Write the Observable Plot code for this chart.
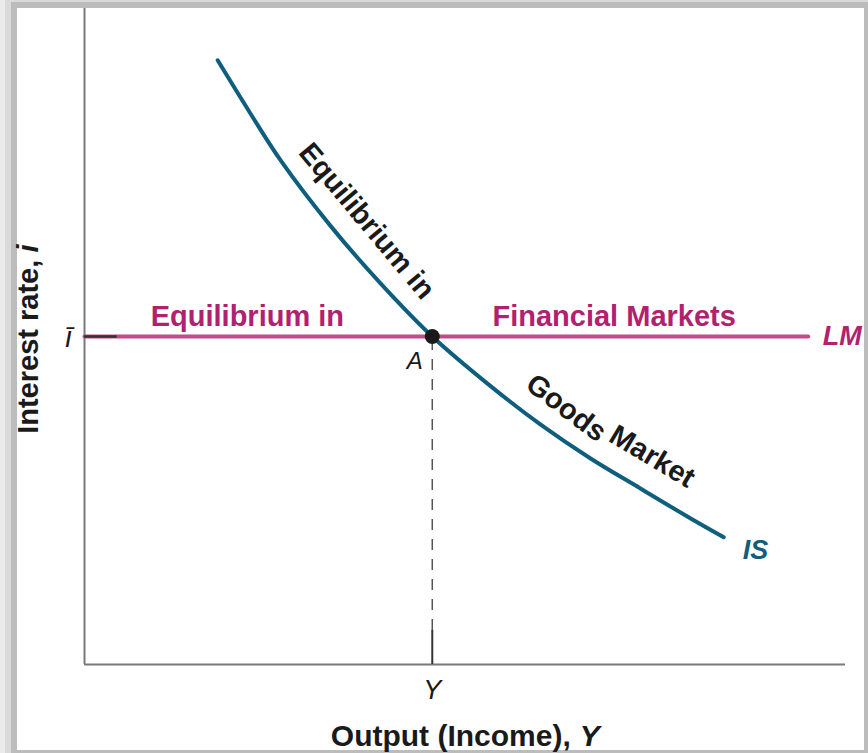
<!DOCTYPE html>
<html>
<head>
<meta charset="utf-8">
<script src="https://cdn.jsdelivr.net/npm/d3@7"></script>
<script src="https://cdn.jsdelivr.net/npm/@observablehq/plot@0.6"></script>
<style>
  html, body { margin: 0; padding: 0; }
  body { width: 868px; height: 753px; overflow: hidden; background: #ebebeb; position: relative; }
  .band1 { position: absolute; left: 5px; top: 0; right: 0; bottom: 0; background: #dadada; }
  .band2 { position: absolute; left: 11px; top: 2px; right: 0; bottom: 0; background: #bcbcbc; }
  .paper { position: absolute; left: 17px; top: 8px; width: 847px; height: 742px; background: #fff; }
  #chart { position: absolute; left: 0; top: 0; }
</style>
</head>
<body>
<div class="band1"></div>
<div class="band2"></div>
<div class="paper"></div>
<div id="chart"></div>
<script>
// ---- data ----
const isOutput = [17.5, 21.8, 25.8, 32.3, 38.9, 45.7, 53.4, 59.9, 66.5, 73.1, 79.6, 84.0];
const isRate   = [92.1, 84.0, 76.8, 66.9, 58.1, 50.0, 42.4, 36.6, 31.4, 26.8, 22.3, 19.4];
const lmOutput = [0, 95.1];
const iBar = 50.0;          // interest rate set by the central bank
const yEq = 45.7;           // equilibrium output
const curveNames = ["IS", "LM"];
const lmLabels = ["Equilibrium in", "Financial Markets"];
const isLabels = ["Equilibrium in", "Goods", "Market"];
const tickLabels = ["\u012B", "Y"];
const pointName = "A";
const xTitle = ["Output (Income),", "Y"];
const yTitle = ["Interest rate,", "i"];

const isData = isOutput.map((x, k) => ({x, y: isRate[k]}));
const lmData = lmOutput.map(x => ({x, y: iBar}));

const FONT = "'Liberation Sans', Arial, Helvetica, sans-serif";
const TEAL = "#0f5e7d";
const MAG_LINE = "#c04b88";
const MAG_TEXT = "#b0226f";
const INK = "#1a1a1a";

const chart = Plot.plot({
  width: 868,
  height: 753,
  marginLeft: 84,
  marginRight: 23,
  marginTop: 8,
  marginBottom: 89,
  x: {domain: [0, 100], axis: null},
  y: {domain: [0, 100], axis: null},
  style: {background: "transparent", fontFamily: FONT, overflow: "visible"},
  marks: [
    // axes
    Plot.ruleX([0], {stroke: "#7a7a7a", strokeWidth: 2}),
    Plot.ruleY([0], {stroke: "#7a7a7a", strokeWidth: 2}),
    // dashed guide from A down to the axis
    Plot.ruleX([yEq], {y1: 5.2, y2: iBar, stroke: "#555", strokeWidth: 1.5, strokeDasharray: "11,9"}),
    // LM curve
    Plot.line(lmData, {x: "x", y: "y", stroke: MAG_LINE, strokeWidth: 4}),
    // ticks
    Plot.ruleY([iBar], {x1: 0, x2: 4.3, stroke: "#333", strokeWidth: 2.5}),
    Plot.ruleX([yEq], {y1: 0, y2: 5.2, stroke: "#333", strokeWidth: 2}),
    // IS curve
    Plot.line(isData, {x: "x", y: "y", curve: "catmull-rom", stroke: TEAL, strokeWidth: 4}),
    // equilibrium point
    Plot.dot([{x: yEq, y: iBar}], {x: "x", y: "y", r: 7.5, fill: INK, stroke: "none"}),
    // LM labels
    Plot.text([lmLabels[0]], {x: 21.4, y: 53.0, text: d => d, fill: MAG_TEXT, fontSize: 29, fontWeight: "bold"}),
    Plot.text([lmLabels[1]], {x: 69.6, y: 53.0, text: d => d, fill: MAG_TEXT, fontSize: 29, fontWeight: "bold"}),
    Plot.text([curveNames[1]], {x: 97.0, y: 50.0, text: d => d, fill: MAG_TEXT, fontSize: 27, fontWeight: "bold", fontStyle: "italic", textAnchor: "start"}),
    // IS labels
    Plot.text([isLabels[0]], {x: 37.1, y: 67.6, text: d => d, rotate: 50, fill: INK, fontSize: 29, fontWeight: "bold"}),
    Plot.text([isLabels[1]], {x: 63.3, y: 39.1, text: d => d, rotate: 37, fill: INK, fontSize: 29, fontWeight: "bold"}),
    Plot.text([isLabels[2]], {x: 74.6, y: 31.7, text: d => d, rotate: 31, fill: INK, fontSize: 29, fontWeight: "bold"}),
    Plot.text([curveNames[0]], {x: 86.5, y: 17.4, text: d => d, fill: TEAL, fontSize: 27, fontWeight: "bold", fontStyle: "italic", textAnchor: "start"}),
    // point label
    Plot.text([pointName], {x: 43.4, y: 46.2, text: d => d, fill: INK, fontSize: 24, fontStyle: "italic"}),
    // tick labels
    Plot.text([tickLabels[0]], {y: iBar, frameAnchor: "left", dx: -16, dy: 1, text: d => d, fill: INK, fontSize: 29, fontStyle: "italic", textAnchor: "middle", lineAnchor: "middle"}),
    Plot.text([tickLabels[1]], {x: yEq, frameAnchor: "bottom", dy: 26, text: d => d, fill: INK, fontSize: 27, fontStyle: "italic", lineAnchor: "middle"}),
    // axis titles
    Plot.text([xTitle[0]], {x: 63.9, frameAnchor: "bottom", dy: 72, text: d => d, fill: INK, fontSize: 30, fontWeight: "bold", textAnchor: "end", lineAnchor: "middle"}),
    Plot.text([xTitle[1]], {x: 63.9, frameAnchor: "bottom", dy: 72, dx: 9, text: d => d, fill: INK, fontSize: 30, fontWeight: "bold", fontStyle: "italic", textAnchor: "start", lineAnchor: "middle"}),
    Plot.text([yTitle[0]], {y: 61.7, frameAnchor: "left", dx: -56, rotate: -90, text: d => d, fill: INK, fontSize: 29, fontWeight: "bold", textAnchor: "end", lineAnchor: "middle"}),
    Plot.text([yTitle[1]], {y: 62.8, frameAnchor: "left", dx: -56, rotate: -90, text: d => d, fill: INK, fontSize: 29, fontWeight: "bold", fontStyle: "italic", textAnchor: "start", lineAnchor: "middle"})
  ]
});
document.getElementById("chart").appendChild(chart);
</script>
</body>
</html>
